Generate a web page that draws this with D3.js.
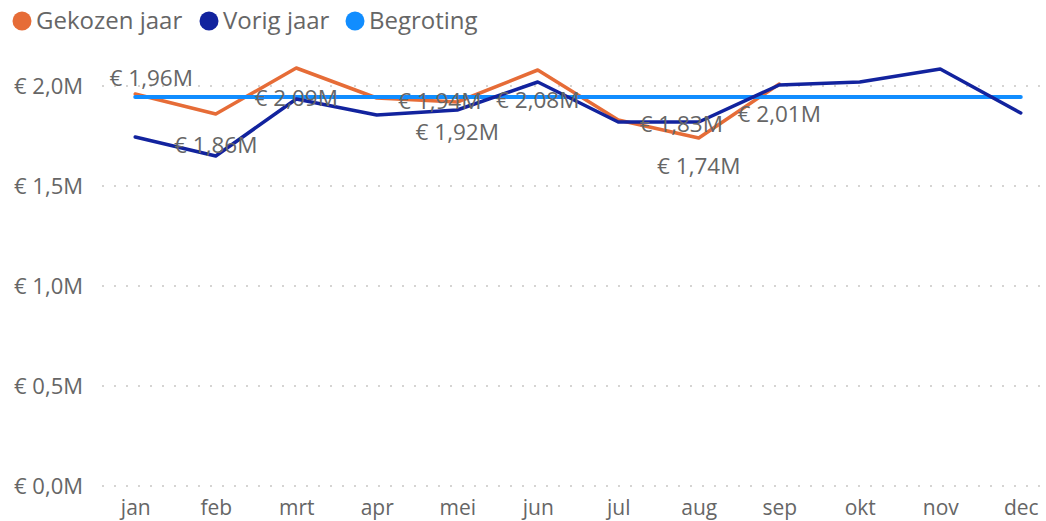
<!DOCTYPE html>
<html>
<head>
<meta charset="utf-8">
<script src="https://cdn.jsdelivr.net/npm/d3@7"></script>
<style>
  body { margin: 0; background: #fff; }
  text { font-family: "Segoe UI", "Open Sans", sans-serif; fill: #666; }
</style>
</head>
<body>
<div class="chart"></div>
<script>
// Data (values in millions of euros)
const months = ['jan', 'feb', 'mrt', 'apr', 'mei', 'jun', 'jul', 'aug', 'sep', 'okt', 'nov', 'dec'];
const gekozenJaar = [1.96, 1.86, 2.09, 1.94, 1.92, 2.08, 1.83, 1.74, 2.01, null, null, null];
const vorigJaar = [1.745, 1.65, 1.935, 1.855, 1.88, 2.02, 1.82, 1.82, 2.005, 2.02, 2.085, 1.865];
const begroting = [1.945, 1.945, 1.945, 1.945, 1.945, 1.945, 1.945, 1.945, 1.945, 1.945, 1.945, 1.945];
const yTicks = [0, 0.5, 1.0, 1.5, 2.0];

// label placement for the Gekozen jaar values: [dx, dy] from the point
const labelOffsets = [[16, -16], [0, 31], [0, 30], [63, 3], [0, 30], [0, 30], [63, 4], [0, 28], [0, 30]];

const series = [
    { name: 'Gekozen jaar', values: gekozenJaar, color: '#E66C37', width: 3.5 },
    { name: 'Vorig jaar', values: vorigJaar, color: '#12239E', width: 3.5 },
    { name: 'Begroting', values: begroting, color: '#118DFF', width: 4 }
];

const width = 1046;
const height = 521;

const svg = d3.select('.chart')
    .append('svg')
    .attr('width', width)
    .attr('height', height);

const xScale = d3.scalePoint()
    .domain(months)
    .range([95, 1061])
    .padding(0.5);

const yScale = d3.scaleLinear()
    .domain([0, 2.0])
    .range([486, 86]);

const fmt = v => '€ ' + d3.format('.1f')(v).replace('.', ',') + 'M';
const fmtLabel = v => '€ ' + d3.format('.2f')(v).replace('.', ',') + 'M';

// Gridlines
svg.append('g')
    .selectAll('line')
    .data(yTicks)
    .enter()
    .append('line')
    .attr('x1', 103)
    .attr('x2', 1042)
    .attr('y1', d => yScale(d))
    .attr('y2', d => yScale(d))
    .attr('stroke', '#C8C6C4')
    .attr('stroke-width', 2)
    .attr('stroke-linecap', 'round')
    .attr('stroke-dasharray', '0,12');

// Y axis
const yAxis = d3.axisLeft(yScale)
    .tickValues(yTicks)
    .tickFormat(fmt)
    .tickSize(0)
    .tickPadding(0);

svg.append('g')
    .attr('transform', 'translate(83,0)')
    .call(yAxis)
    .call(g => g.select('.domain').remove())
    .selectAll('text')
    .attr('font-size', 22)
    .attr('fill', '#666')
    .attr('dy', '0.32em');

// X axis
const xAxis = d3.axisBottom(xScale).tickSize(0).tickPadding(0);

svg.append('g')
    .attr('transform', 'translate(0,498)')
    .call(xAxis)
    .call(g => g.select('.domain').remove())
    .selectAll('text')
    .attr('font-size', 21)
    .attr('fill', '#666')
    .attr('dy', '0.8em');

// Lines
const line = d3.line()
    .defined(d => d.v != null)
    .x(d => xScale(d.m))
    .y(d => yScale(d.v));

[series[0], series[2], series[1]].forEach(s => {
    svg.append('path')
        .datum(months.map((m, i) => ({ m, v: s.values[i] })))
        .attr('fill', 'none')
        .attr('stroke', s.color)
        .attr('stroke-width', s.width)
        .attr('stroke-linejoin', 'round')
        .attr('stroke-linecap', 'round')
        .attr('d', line);
});

// Data labels
svg.append('g')
    .selectAll('text')
    .data(gekozenJaar.filter(v => v != null))
    .enter()
    .append('text')
    .attr('x', (d, i) => xScale(months[i]) + labelOffsets[i][0])
    .attr('y', (d, i) => yScale(d) + labelOffsets[i][1])
    .attr('dy', '0.35em')
    .attr('text-anchor', 'middle')
    .attr('font-size', 22.5)
    .attr('fill', '#666')
    .text(fmtLabel);

// Legend
const legendX = [22, 209, 355];
const legend = svg.append('g')
    .selectAll('g')
    .data(series)
    .enter()
    .append('g')
    .attr('transform', (d, i) => `translate(${legendX[i]},21)`);

legend.append('circle')
    .attr('r', 9.5)
    .attr('fill', d => d.color);

legend.append('text')
    .attr('x', 14)
    .attr('dy', '0.35em')
    .attr('font-size', 24)
    .attr('fill', '#666')
    .text(d => d.name);
</script>
</body>
</html>
